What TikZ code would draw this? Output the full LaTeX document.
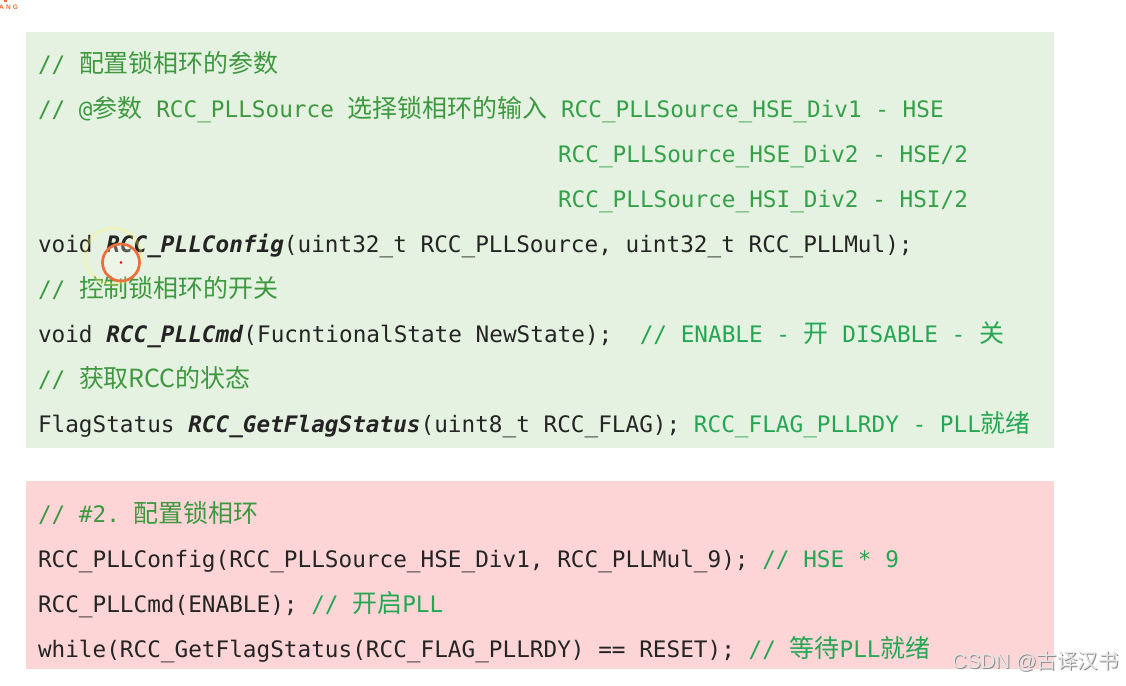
\documentclass[tikz,border=0pt]{standalone}
\usepackage{fontspec}
\setmainfont{DejaVu Sans}
\setmonofont{DejaVu Sans Mono}
\newfontfamily\cjk[Scale=1.1]{Noto Sans CJK SC}
\newfontfamily\wmfont{Liberation Sans}
\newfontfamily\wmcjk{Noto Sans CJK SC}
\definecolor{greenbg}{RGB}{230,242,225}
\definecolor{pinkbg}{RGB}{253,213,215}
\definecolor{codetxt}{RGB}{36,36,36}
\definecolor{cmtA}{RGB}{62,152,64}
\definecolor{cmtB}{RGB}{36,166,82}
\definecolor{cmtC}{RGB}{52,160,72}
\definecolor{orng}{RGB}{236,110,60}
\begin{document}
\begin{tikzpicture}[x=1pt,y=-1pt,
  codeline/.style={anchor=base west, inner sep=0pt, outer sep=0pt,
    font=\fontsize{22.7}{27}\selectfont\ttfamily, text=codetxt},
  cmtline/.style={codeline, text=cmtA},
  wmstyle/.style={anchor=base west, inner sep=0pt, font=\fontsize{20.5}{21}\selectfont\wmfont}]
\useasboundingbox (0,0) rectangle (1126,685);
\fill[white] (0,0) rectangle (1126,685);
% boxes
\fill[greenbg] (26,32) rectangle (1054,448);
\fill[pinkbg] (26,481) rectangle (1054,669);
% top box lines
\node[cmtline] (c1) at (38,72.5) {// {\cjk 配置锁相环的参数}};
\node[cmtline] (c2) at (38,117.5) {// @{\cjk 参数} RCC\_PLLSource {\cjk 选择锁相环的输入} \textcolor{cmtC}{RCC\_PLLSource\_HSE\_Div1 - HSE}};
\node[codeline,text=cmtC] (c3) at (558,162.5) {RCC\_PLLSource\_HSE\_Div2 - HSE/2};
\node[codeline,text=cmtC] (c4) at (558,207.5) {RCC\_PLLSource\_HSI\_Div2 - HSI/2};
\node[codeline] (f1) at (38,252.5) {void \textbf{\textit{RCC\_PLLConfig}}(uint32\_t RCC\_PLLSource, uint32\_t RCC\_PLLMul);};
\node[cmtline] (c5) at (38,297.5) {// {\cjk 控制锁相环的开关}};
\node[codeline] (f2) at (38,342.5) {void \textbf{\textit{RCC\_PLLCmd}}(FucntionalState NewState);~~\textcolor{cmtB}{// ENABLE - {\cjk 开} DISABLE - {\cjk 关}}};
\node[cmtline] (c6) at (38,387.5) {// {\cjk 获取RCC的状态}};
\node[codeline] (f3) at (38,432.5) {FlagStatus \textbf{\textit{RCC\_GetFlagStatus}}(uint8\_t RCC\_FLAG); \textcolor{cmtB}{RCC\_FLAG\_PLLRDY - PLL{\cjk 就绪}}};
% bottom box lines
\node[cmtline] (p1) at (38,522) {// \#2. {\cjk 配置锁相环}};
\node[codeline] (p2) at (38,567) {RCC\_PLLConfig(RCC\_PLLSource\_HSE\_Div1, RCC\_PLLMul\_9); \textcolor{cmtB}{// HSE * 9}};
\node[codeline] (p3) at (38,612) {RCC\_PLLCmd(ENABLE); \textcolor{cmtB}{// {\cjk 开启}PLL}};
\node[codeline] (p4) at (38,657) {while(RCC\_GetFlagStatus(RCC\_FLAG\_PLLRDY) == RESET); \textcolor{cmtB}{// {\cjk 等待}PLL{\cjk 就绪}}};
% cursor highlight
\node[circle, draw=yellow!60!white, line width=3pt, minimum size=56pt, inner sep=0pt, opacity=0.3] (halo) at (113,256) {};
\node[circle, draw=orng, fill=white, fill opacity=0.25, line width=2.7pt, minimum size=37pt, inner sep=0pt] (cur) at (121,262.5) {};
\fill[red!80!black] (cur.center) circle (1.4);
% top-left logo fragment
\fill[orng] (4,0) rectangle (7,1.8);
\node[anchor=base west, inner sep=0pt, font=\bfseries\fontsize{6.5}{7}\selectfont\wmfont, text=orng] (logo) at (-1,9.5) {A\hspace{2.2pt}N\hspace{2.2pt}G};
% watermark
\node[wmstyle, text=black!45] (wmshadow) at (953,669) {CSDN @{\wmcjk 古译汉书}};
\node[wmstyle, text=white!90!black] (wm) at (952,668) {CSDN @{\wmcjk 古译汉书}};
\end{tikzpicture}
\end{document}
